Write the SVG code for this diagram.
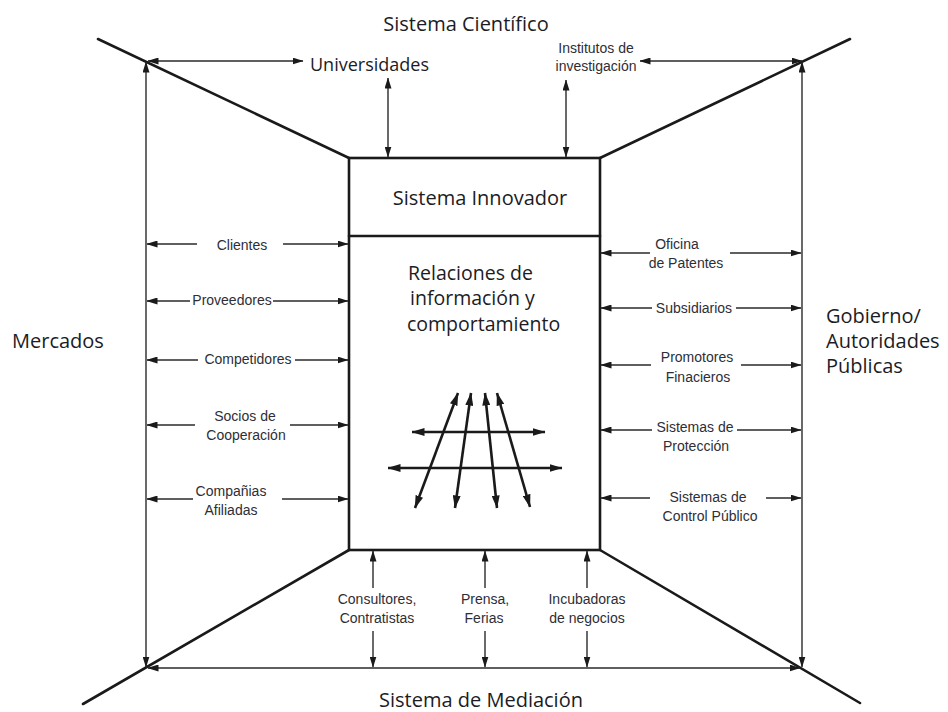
<svg xmlns="http://www.w3.org/2000/svg" width="948" height="712" viewBox="0 0 948 712">
  <defs>
    <marker id="arr" viewBox="0 0 11 7" refX="10.5" refY="3.5" markerWidth="11" markerHeight="7" markerUnits="userSpaceOnUse" orient="auto-start-reverse">
      <path d="M0,0 L11,3.5 L0,7 z" fill="#1a1a1a"/>
    </marker>
    <marker id="arrBig" viewBox="0 0 13 8" refX="12.5" refY="4" markerWidth="13" markerHeight="8" markerUnits="userSpaceOnUse" orient="auto-start-reverse">
      <path d="M0,0 L13,4 L0,8 z" fill="#1a1a1a"/>
    </marker>
    <style>
      .frame { stroke: #1a1a1a; stroke-width: 2.6; fill: none; stroke-linecap: round; }
      .box { stroke: #1a1a1a; stroke-width: 2.6; fill: #ffffff; }
      .thin { stroke: #2a2a2a; stroke-width: 1.4; fill: none; }
      .thick { stroke: #1a1a1a; stroke-width: 2.6; fill: none; }
      .big { font-family: "Open Sans", "Noto Sans", sans-serif; font-size: 20px; fill: #1c1c24; }
      .rel { font-family: "Open Sans", "Noto Sans", sans-serif; font-size: 19.5px; fill: #1c1c24; }
      .mid { font-family: "Open Sans", "Noto Sans", sans-serif; font-size: 18px; fill: #1c1c24; }
      .small { font-family: "Liberation Sans", Arial, sans-serif; font-size: 14px; fill: #2e2e36; text-anchor: middle; }
    </style>
  </defs>

  <!-- perspective frame: diagonals from the central box to the corners -->
  <g id="frame">
    <line class="frame" x1="98" y1="39" x2="349" y2="158"/>
    <line class="frame" x1="600" y1="158" x2="850" y2="39"/>
    <line class="frame" x1="83" y1="704" x2="349" y2="550"/>
    <line class="frame" x1="600" y1="550" x2="860" y2="703"/>
  </g>

  <!-- central box -->
  <g id="sistema-innovador">
    <rect class="box" x="349" y="158" width="251" height="392"/>
    <line class="frame" x1="349" y1="236" x2="600" y2="236"/>
    <text class="big" x="480" y="205" text-anchor="middle">Sistema Innovador</text>
  </g>
  <g id="relaciones">
    <text class="rel" x="408" y="280">Relaciones de</text>
    <text class="rel" x="410" y="305">información y</text>
    <text class="rel" x="407" y="331">comportamiento</text>
  </g>

  <!-- outer systems -->
  <g id="sistema-cientifico"><text class="big" x="466" y="31" text-anchor="middle">Sistema Científico</text></g>
  <g id="mercados"><text class="big" x="12" y="348">Mercados</text></g>
  <g id="gobierno">
    <text class="big" x="826" y="323">Gobierno/</text>
    <text class="big" x="826" y="348">Autoridades</text>
    <text class="big" x="826" y="373">Públicas</text>
  </g>
  <g id="sistema-mediacion"><text class="big" x="481" y="707" text-anchor="middle">Sistema de Mediación</text></g>

  <!-- actors -->
  <g id="universidades"><text class="mid" x="310" y="71">Universidades</text></g>
  <g id="institutos">
    <text class="small" x="596" y="53">Institutos de</text>
    <text class="small" x="596" y="71">investigación</text>
  </g>
  <g id="clientes"><text class="small" x="242" y="250">Clientes</text></g>
  <g id="proveedores"><text class="small" x="232" y="305">Proveedores</text></g>
  <g id="competidores"><text class="small" x="248" y="364">Competidores</text></g>
  <g id="socios">
    <text class="small" x="245" y="421">Socios de</text>
    <text class="small" x="246" y="440">Cooperación</text>
  </g>
  <g id="companias">
    <text class="small" x="231" y="496">Compañias</text>
    <text class="small" x="231" y="515">Afiliadas</text>
  </g>
  <g id="oficina">
    <text class="small" x="677" y="249">Oficina</text>
    <text class="small" x="686" y="268">de Patentes</text>
  </g>
  <g id="subsidiarios"><text class="small" x="694" y="313">Subsidiarios</text></g>
  <g id="promotores">
    <text class="small" x="697" y="362">Promotores</text>
    <text class="small" x="698" y="382">Finacieros</text>
  </g>
  <g id="proteccion">
    <text class="small" x="695" y="432">Sistemas de</text>
    <text class="small" x="696" y="451">Protección</text>
  </g>
  <g id="control">
    <text class="small" x="708" y="502">Sistemas de</text>
    <text class="small" x="710" y="521">Control Público</text>
  </g>
  <g id="consultores">
    <text class="small" x="377" y="604">Consultores,</text>
    <text class="small" x="377" y="623">Contratistas</text>
  </g>
  <g id="prensa">
    <text class="small" x="485" y="604">Prensa,</text>
    <text class="small" x="484" y="623">Ferias</text>
  </g>
  <g id="incubadoras">
    <text class="small" x="587" y="604">Incubadoras</text>
    <text class="small" x="587" y="623">de negocios</text>
  </g>

  <!-- connectors -->
  <g id="connectors">
    <!-- outer boundary arrows -->
    <line class="thin" x1="146" y1="62" x2="146" y2="667" marker-start="url(#arr)" marker-end="url(#arr)"/>
    <line class="thin" x1="802" y1="62" x2="802" y2="667" marker-start="url(#arr)" marker-end="url(#arr)"/>
    <line class="thin" x1="148" y1="668" x2="800" y2="668" marker-start="url(#arr)" marker-end="url(#arr)"/>
    <line class="thin" x1="148" y1="61" x2="303" y2="61" marker-start="url(#arr)" marker-end="url(#arr)"/>
    <line class="thin" x1="640" y1="61" x2="802" y2="61" marker-start="url(#arr)" marker-end="url(#arr)"/>

    <!-- top vertical arrows -->
    <line class="thin" x1="388" y1="78" x2="388" y2="157" marker-start="url(#arr)" marker-end="url(#arr)"/>
    <line class="thin" x1="566" y1="80" x2="566" y2="157" marker-start="url(#arr)" marker-end="url(#arr)"/>

    <!-- left side: markets -->
    <line class="thin" x1="197" y1="244" x2="147" y2="244" marker-end="url(#arr)"/>
    <line class="thin" x1="283" y1="244" x2="348" y2="244" marker-end="url(#arr)"/>
    <line class="thin" x1="190" y1="301" x2="147" y2="301" marker-end="url(#arr)"/>
    <line class="thin" x1="273" y1="301" x2="348" y2="301" marker-end="url(#arr)"/>
    <line class="thin" x1="198" y1="360" x2="147" y2="360" marker-end="url(#arr)"/>
    <line class="thin" x1="295" y1="360" x2="348" y2="360" marker-end="url(#arr)"/>
    <line class="thin" x1="195" y1="425" x2="147" y2="425" marker-end="url(#arr)"/>
    <line class="thin" x1="290" y1="425" x2="348" y2="425" marker-end="url(#arr)"/>
    <line class="thin" x1="193" y1="499" x2="147" y2="499" marker-end="url(#arr)"/>
    <line class="thin" x1="282" y1="499" x2="348" y2="499" marker-end="url(#arr)"/>

    <!-- right side: government -->
    <line class="thin" x1="650" y1="253" x2="601" y2="253" marker-end="url(#arr)"/>
    <line class="thin" x1="730" y1="253" x2="801" y2="253" marker-end="url(#arr)"/>
    <line class="thin" x1="652" y1="308" x2="601" y2="308" marker-end="url(#arr)"/>
    <line class="thin" x1="736" y1="308" x2="801" y2="308" marker-end="url(#arr)"/>
    <line class="thin" x1="651" y1="365" x2="601" y2="365" marker-end="url(#arr)"/>
    <line class="thin" x1="741" y1="365" x2="801" y2="365" marker-end="url(#arr)"/>
    <line class="thin" x1="652" y1="430" x2="601" y2="430" marker-end="url(#arr)"/>
    <line class="thin" x1="737" y1="430" x2="801" y2="430" marker-end="url(#arr)"/>
    <line class="thin" x1="650" y1="498" x2="601" y2="498" marker-end="url(#arr)"/>
    <line class="thin" x1="766" y1="498" x2="801" y2="498" marker-end="url(#arr)"/>

    <!-- bottom: mediation -->
    <line class="thin" x1="373" y1="588" x2="373" y2="551" marker-end="url(#arr)"/>
    <line class="thin" x1="373" y1="631" x2="373" y2="667" marker-end="url(#arr)"/>
    <line class="thin" x1="485" y1="588" x2="485" y2="551" marker-end="url(#arr)"/>
    <line class="thin" x1="485" y1="631" x2="485" y2="667" marker-end="url(#arr)"/>
    <line class="thin" x1="587" y1="588" x2="587" y2="551" marker-end="url(#arr)"/>
    <line class="thin" x1="587" y1="631" x2="587" y2="667" marker-end="url(#arr)"/>

    <!-- internal information flows -->
    <line class="thick" x1="412" y1="432" x2="545" y2="432" marker-start="url(#arrBig)" marker-end="url(#arrBig)"/>
    <line class="thick" x1="388" y1="468" x2="562" y2="468" marker-start="url(#arrBig)" marker-end="url(#arrBig)"/>
    <line class="thick" x1="458" y1="393" x2="415" y2="508" marker-start="url(#arrBig)" marker-end="url(#arrBig)"/>
    <line class="thick" x1="471" y1="393" x2="455" y2="508" marker-start="url(#arrBig)" marker-end="url(#arrBig)"/>
    <line class="thick" x1="485" y1="393" x2="497" y2="508" marker-start="url(#arrBig)" marker-end="url(#arrBig)"/>
    <line class="thick" x1="497" y1="393" x2="530" y2="507" marker-start="url(#arrBig)" marker-end="url(#arrBig)"/>
  </g>
</svg>
